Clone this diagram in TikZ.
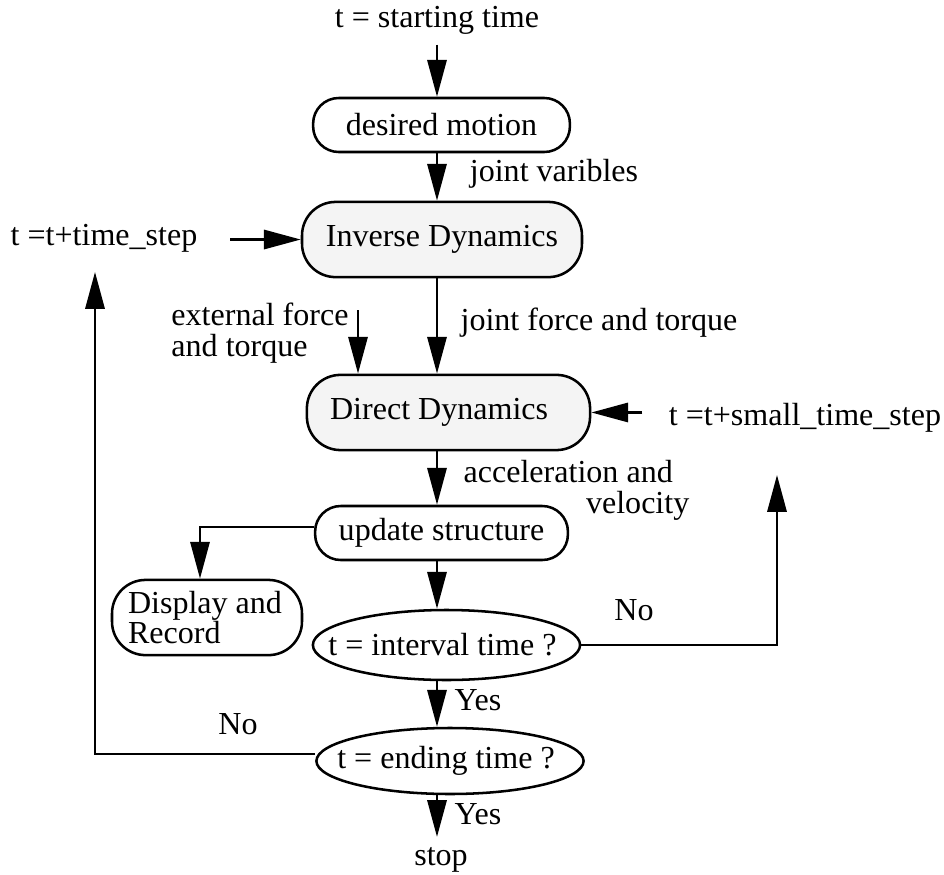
\documentclass[tikz,border=0pt]{standalone}
\usepackage{fontspec}
\setmainfont{Liberation Serif}
\usetikzlibrary{shapes.geometric,arrows.meta,positioning,calc}
\definecolor{dyngray}{gray}{0.955}

\begin{document}
\begin{tikzpicture}[
    font=\fontsize{11.4}{11}\selectfont,
    line width=0.9pt,
    >={Triangle[length=0.46cm,width=0.24cm]},
    flowbox/.style={rectangle,draw,rounded corners=0.32cm,minimum height=0.675cm},
    dynbox/.style={rectangle,draw,rounded corners=0.42cm,minimum height=0.94cm,fill=dyngray},
    testbox/.style={ellipse,draw,inner sep=0pt,minimum width=3.34cm},
]
    \useasboundingbox (0,0) rectangle (11.8,-10.9375);

    % Start
    \node (start) at (5.4625,-0.25) {t = starting time};

    % Desired motion
    \node[flowbox,minimum width=3.21cm] (desired) at (5.519,-1.5625) {desired motion};

    % Inverse dynamics
    \node[dynbox,minimum width=3.5cm] (inv) at (5.525,-2.994) {Inverse Dynamics};

    % Direct dynamics
    \node[dynbox,minimum width=3.54cm,inner xsep=0.29cm,text width=2.96cm,align=flush left] (dir) at (5.606,-5.156) {Direct Dynamics};

    % Update structure
    \node[flowbox,minimum width=3.16cm] (upd) at (5.519,-6.6625) {update structure};

    % Display and record
    \node[flowbox,rounded corners=0.42cm,minimum width=2.375cm,minimum height=0.94cm,inner xsep=0.2cm,text width=1.975cm,align=flush left] (disp) at (2.5875,-7.719) {Display and\\Record};

    % Tests
    \node[testbox,minimum height=0.875cm,label={[xshift=-0.05cm]center:t = interval time ?}] (intv) at (5.581,-8.0625) {};
    \node[testbox,minimum height=0.825cm,label={[xshift=-0.05cm]center:t = ending time ?}] (endt) at (5.625,-9.5125) {};

    % Stop
    \node (stop) at (5.5125,-10.75) {stop};

    % Labels
    \node (jvar) at (6.925,-2.175) {joint varibles};
    \node (tstep) at (1.3,-2.975) {t =t+time\_step};
    \node[align=flush left] (ext) at (3.25,-4.1625) {external force\\and torque};
    \node (jft) at (7.4875,-4.0375) {joint force and torque};
    \node (tsmall) at (10.0625,-5.225) {t =t+small\_time\_step};
    \node[align=flush left] (accel) at (7.206,-6.125) {acceleration and\\\hspace*{1.53cm}velocity};
    \node (noR) at (7.925,-7.625) {No};
    \node (yes1) at (5.975,-8.75) {Yes};
    \node (noL) at (2.975,-9.05) {No};
    \node (yes2) at (5.975,-10.175) {Yes};

    % Free ends
    \coordinate (extin) at (4.475,-3.875);
    \coordinate (noret) at (9.7125,-5.9375);
    \coordinate (stepret) at (1.1875,-3.4);

    % Arrows
    \draw[->] (start) -- (start |- desired.north);
    \foreach \i/\j in {desired/inv, inv/dir, dir/upd, upd/intv, intv/endt} {
        \draw[->] (\i.south -| start) -- (start |- \j.north);
    }
    \draw[->] (endt.south -| start) -- (start |- stop.north);
    \draw[->,shorten <=0.28cm] (tstep.east |- inv) -- (inv);
    \draw[->,shorten <=0.2cm] (tsmall.west |- dir) -- (dir);
    \draw[->] (extin) -- (extin |- dir.north);
    \draw[->] ([yshift=0.075cm]upd.west) -| ([xshift=-0.0875cm]disp.north);
    \draw[->] (intv.east) -| (noret);
    \draw[->] ([yshift=0.0875cm]endt.west) -| (stepret);
\end{tikzpicture}
\end{document}
